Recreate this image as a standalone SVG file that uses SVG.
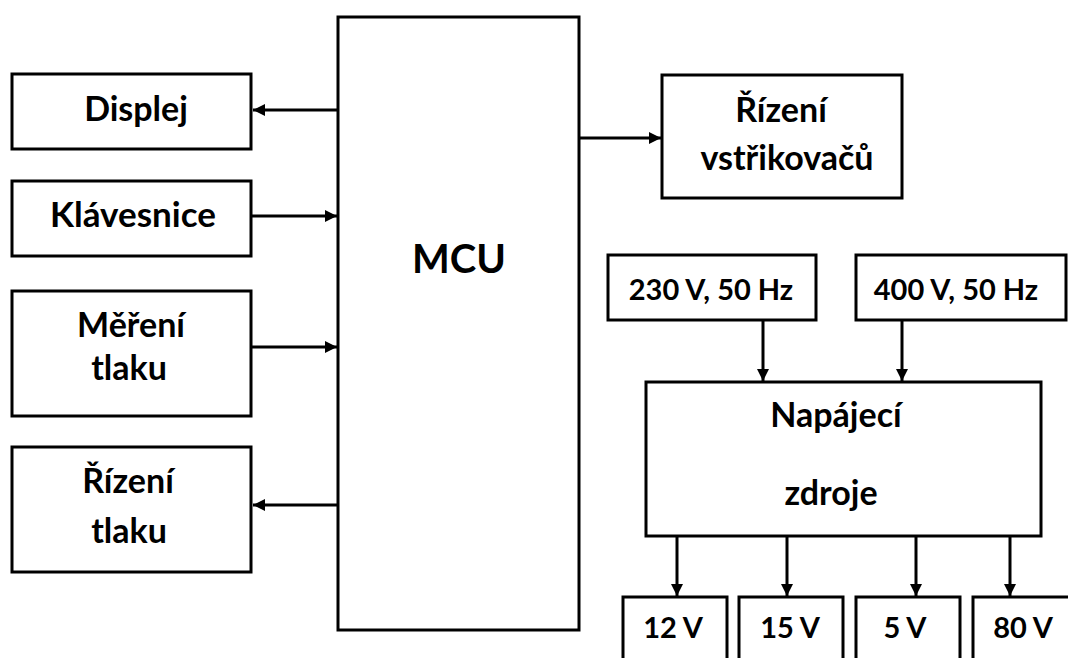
<svg xmlns="http://www.w3.org/2000/svg" width="1068" height="658" viewBox="0 0 1068 658">
<defs>
<style>
.box{fill:#fff;stroke:#000;stroke-width:3}
.t{font-family:Lato,"Open Sans",sans-serif;font-weight:bold;font-size:34px;fill:#000;text-anchor:middle}
.n{font-size:29px}
.big{font-size:40px}
.c{stroke:#000;stroke-width:3;fill:none;marker-end:url(#ah)}
</style>
<marker id="ah" viewBox="0 0 10 10" refX="10" refY="5" markerWidth="4.5" markerHeight="4" markerUnits="strokeWidth" orient="auto">
<path d="M0,0 L10,5 L0,10 z" fill="#000"/>
</marker>
</defs>
<rect width="1068" height="658" fill="#fff"/>
<g id="mcu"><rect class="box" x="338" y="17" width="241" height="613"/><text class="t big" x="459" y="273">MCU</text></g>
<g id="displej"><rect class="box" x="12" y="74" width="239" height="75"/><text class="t" x="136" y="121">Displej</text></g>
<g id="klavesnice"><rect class="box" x="12" y="181" width="239" height="75"/><text class="t" x="133" y="227" style="font-size:35px">Klávesnice</text></g>
<g id="mereni"><rect class="box" x="12" y="291" width="239" height="125"/><text class="t" x="131" y="337">Měření</text><text class="t" x="129" y="380">tlaku</text></g>
<g id="rizeni-tlaku"><rect class="box" x="12" y="447" width="239" height="125"/><text class="t" x="128" y="493">Řízení</text><text class="t" x="129" y="543">tlaku</text></g>
<g id="rizeni-vstrik"><rect class="box" x="662" y="75" width="240" height="123"/><text class="t" x="781" y="122">Řízení</text><text class="t" x="787" y="170">vstřikovačů</text></g>
<g id="v230"><rect class="box" x="608" y="255" width="208" height="65"/><text class="t n" x="711" y="300">230 V, 50 Hz</text></g>
<g id="v400"><rect class="box" x="856" y="255" width="210" height="65"/><text class="t n" x="956" y="300">400 V, 50 Hz</text></g>
<g id="zdroj"><rect class="box" x="646" y="382" width="395" height="154"/><text class="t" x="836" y="427">Napájecí</text><text class="t" x="831" y="505">zdroje</text></g>
<g id="o12"><rect class="box" x="623" y="597" width="104" height="80"/><text class="t n" x="673" y="638">12 V</text></g>
<g id="o15"><rect class="box" x="739" y="597" width="104" height="80"/><text class="t n" x="790" y="638">15 V</text></g>
<g id="o5"><rect class="box" x="856" y="597" width="104" height="80"/><text class="t n" x="905" y="638">5 V</text></g>
<g id="o80"><rect class="box" x="973" y="597" width="110" height="80"/><text class="t n" x="1023" y="638">80 V</text></g>
<g id="connectors">
<line class="c" x1="338" y1="110" x2="253" y2="110"/>
<line class="c" x1="251" y1="216" x2="337" y2="216"/>
<line class="c" x1="251" y1="347" x2="337" y2="347"/>
<line class="c" x1="338" y1="505" x2="253" y2="505"/>
<line class="c" x1="579" y1="138" x2="661" y2="138"/>
<line class="c" x1="763" y1="320" x2="763" y2="381"/>
<line class="c" x1="902" y1="320" x2="902" y2="381"/>
<line class="c" x1="677" y1="536" x2="677" y2="596"/>
<line class="c" x1="787" y1="536" x2="787" y2="596"/>
<line class="c" x1="916" y1="536" x2="916" y2="596"/>
<line class="c" x1="1010" y1="536" x2="1010" y2="596"/>
</g>
</svg>
